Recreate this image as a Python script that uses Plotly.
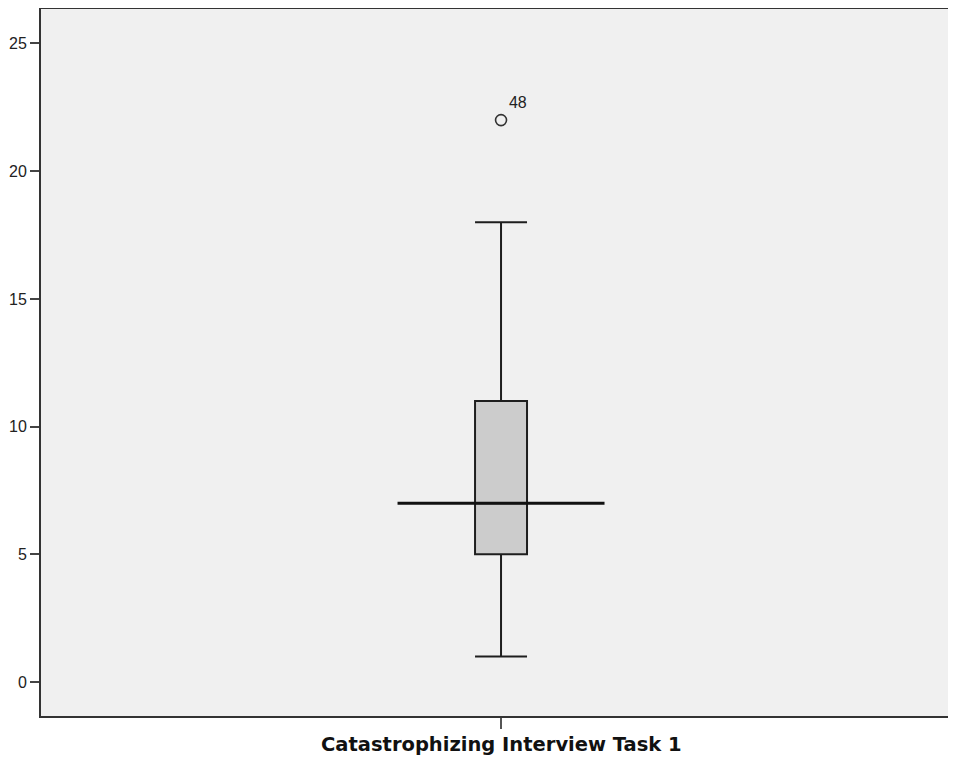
import plotly.graph_objects as go

# box plot summary
variable = "Catastrophizing Interview Task 1"
q1 = [5]
median = [7]
q3 = [11]
lower_whisker = [1]
upper_whisker = [18]
outlier_values = [22]
outlier_cases = ["48"]
y_ticks = [0, 5, 10, 15, 20, 25]

fig = go.Figure()

fig.add_trace(
    go.Box(
        x=[0],
        q1=q1,
        median=median,
        q3=q3,
        lowerfence=lower_whisker,
        upperfence=upper_whisker,
        width=0.0573,
        whiskerwidth=1,
        boxpoints=False,
        fillcolor="#cccccc",
        line={"color": "#1e1e1e", "width": 2},
        name=variable,
        showlegend=False,
        hoverinfo="skip",
    )
)

# SPSS draws the median line wider than the box
fig.add_trace(
    go.Scatter(
        x=[-0.1141, 0.1141],
        y=[median[0], median[0]],
        mode="lines",
        line={"color": "#111111", "width": 3},
        showlegend=False,
        hoverinfo="skip",
    )
)

fig.add_trace(
    go.Scatter(
        x=[0] * len(outlier_values),
        y=outlier_values,
        mode="markers+text",
        marker={
            "symbol": "circle-open",
            "size": 11,
            "color": "#333333",
            "line": {"width": 1.6, "color": "#333333"},
        },
        text=outlier_cases,
        textposition="top right",
        textfont={"size": 16, "color": "#222222"},
        showlegend=False,
        hoverinfo="skip",
    )
)

# category label sits under its tick, like SPSS does
fig.add_annotation(
    x=0,
    xref="x",
    y=0,
    yref="paper",
    yanchor="middle",
    yshift=-28,
    showarrow=False,
    text="<b>" + variable + "</b>",
    font={"family": "DejaVu Sans, sans-serif", "size": 19.5, "color": "#111111"},
)

# the page body has an 8px margin, keep the figure inside the window so it isn't rescaled
fig.update_layout(
    width=940,
    height=749,
    margin={"l": 33, "r": 0, "t": 1, "b": 41},
    paper_bgcolor="white",
    plot_bgcolor="#f0f0f0",
    font={"family": "Liberation Sans, Arial, sans-serif", "size": 16, "color": "#222222"},
    xaxis={
        "range": [-0.5072, 0.4928],
        "tickvals": [0],
        "ticktext": [""],
        "ticks": "outside",
        "ticklen": 11,
        "tickwidth": 2,
        "tickcolor": "#555555",
        "showline": True,
        "linecolor": "#333333",
        "linewidth": 2,
        "mirror": True,
        "showgrid": False,
        "zeroline": False,
    },
    yaxis={
        "range": [-1.33, 26.35],
        "tickvals": y_ticks,
        "ticks": "outside",
        "ticklen": 9,
        "tickwidth": 2,
        "tickcolor": "#444444",
        "showline": True,
        "linecolor": "#333333",
        "linewidth": 2,
        "showgrid": False,
        "zeroline": False,
    },
)

fig.write_html("out.html")
